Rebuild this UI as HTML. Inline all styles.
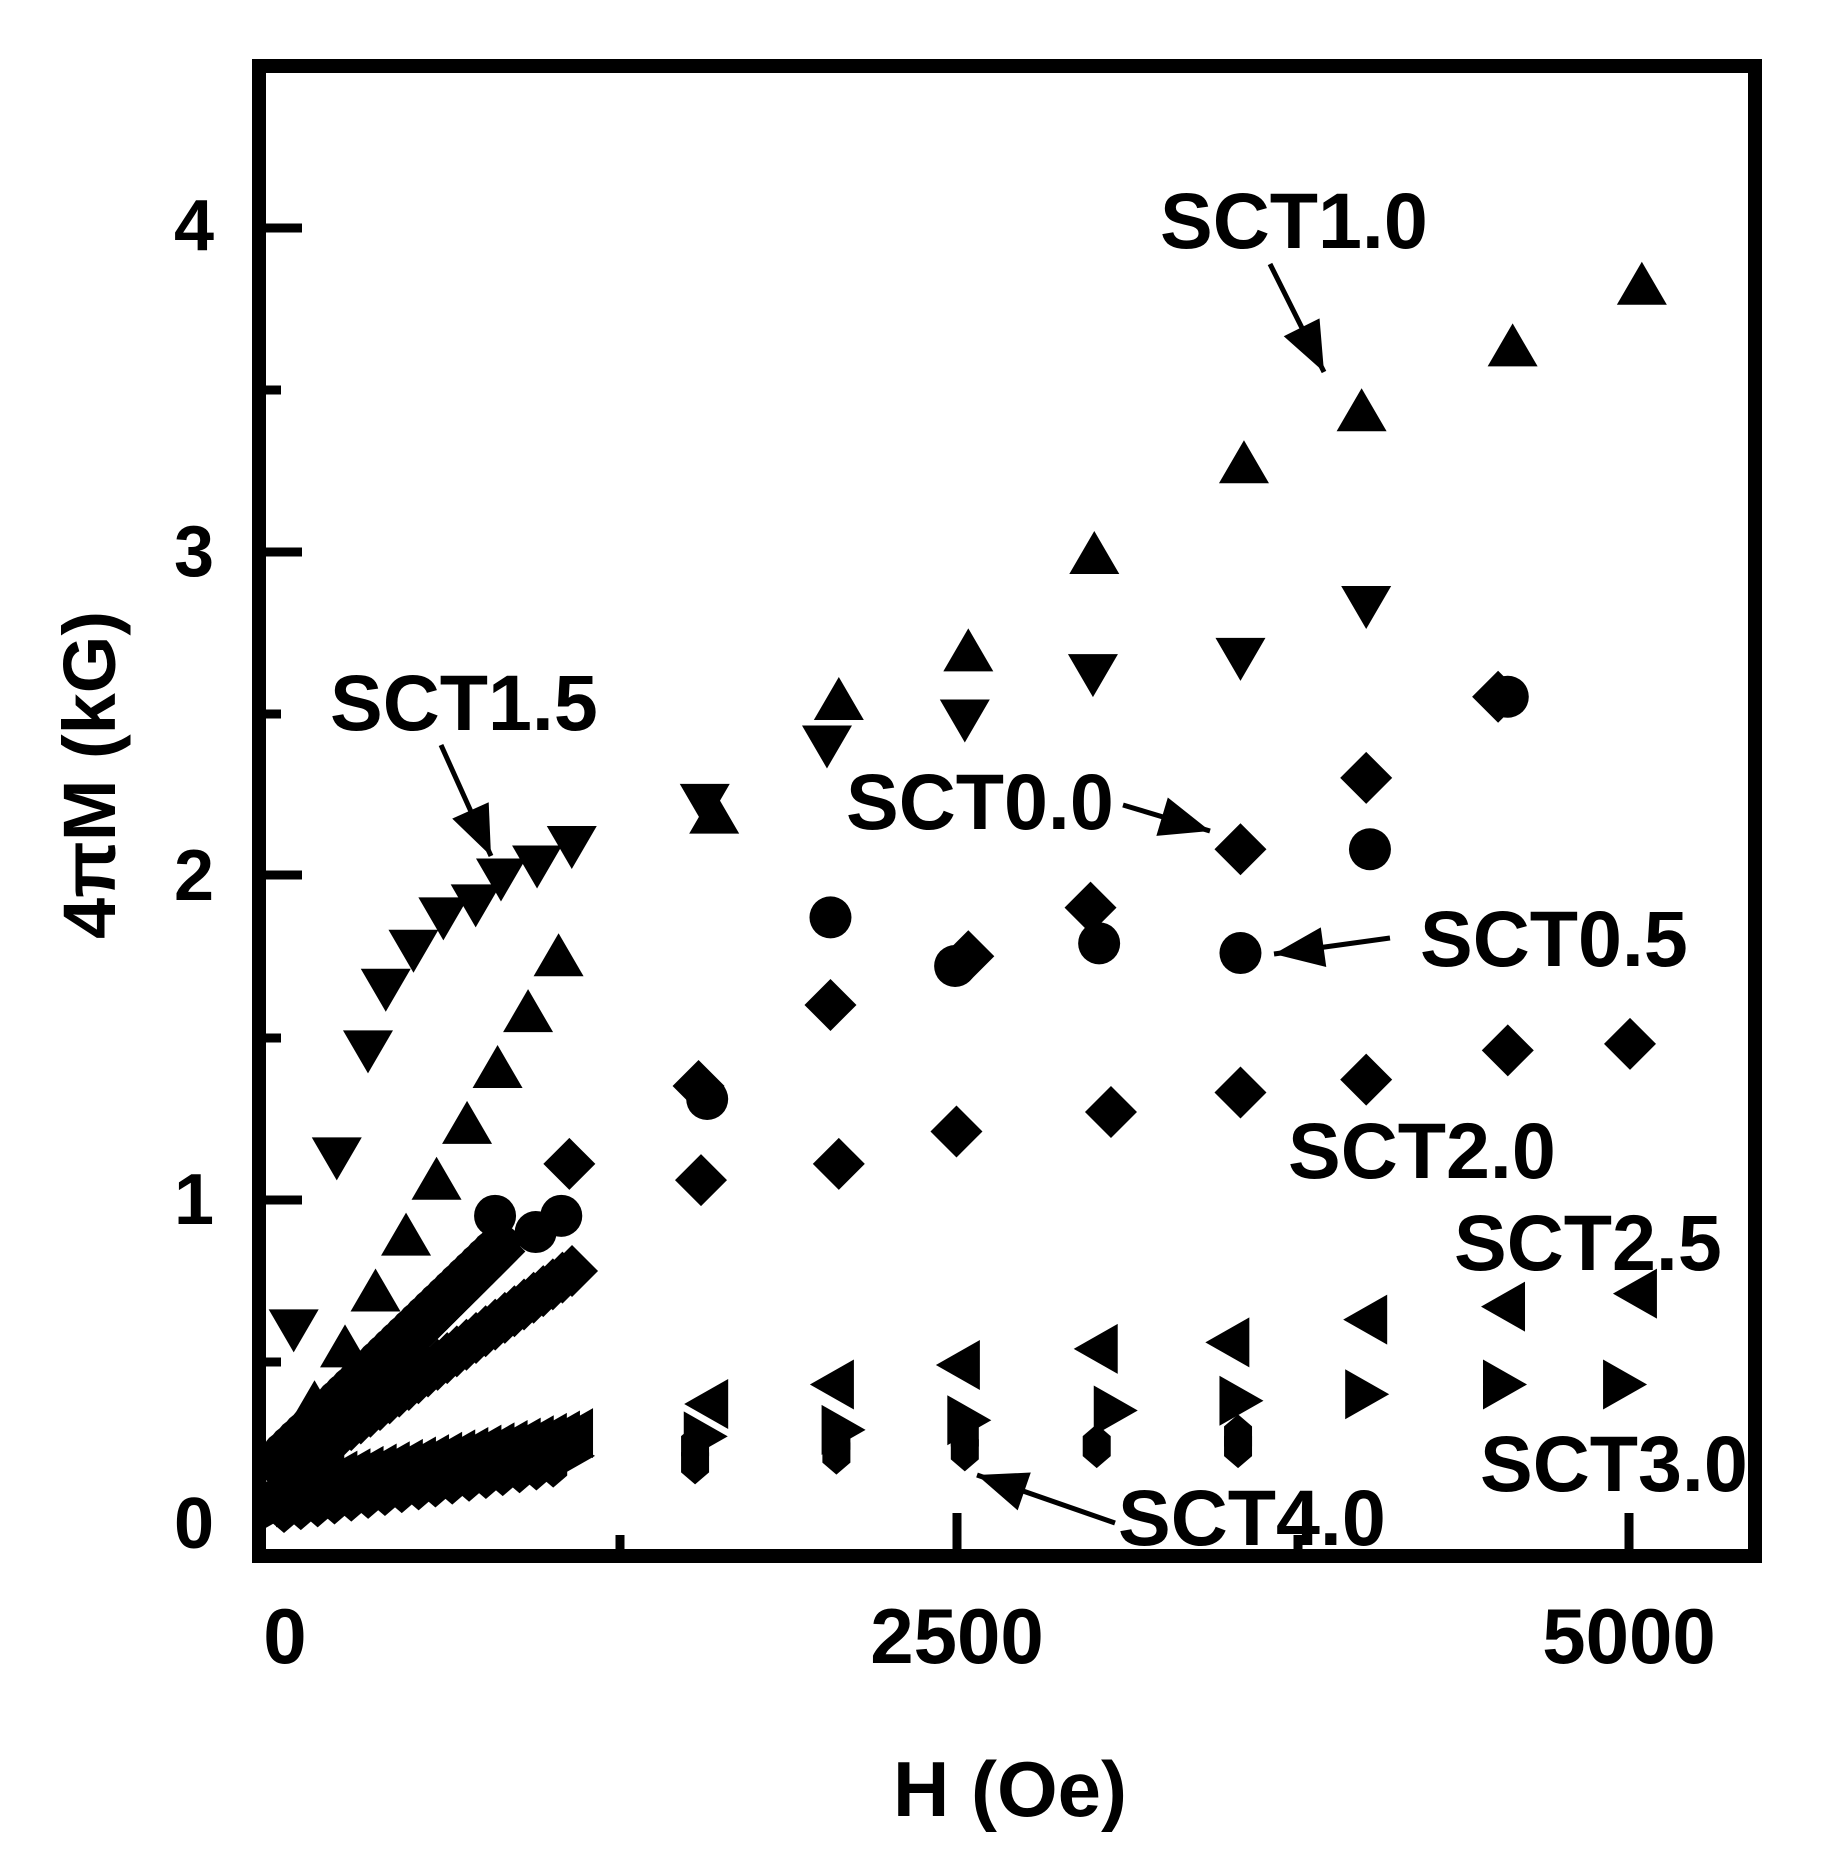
<!DOCTYPE html>
<html><head><meta charset="utf-8"><style>
html,body{margin:0;padding:0;background:#fff}
svg{display:block}
text{font-family:"Liberation Sans",Arial,sans-serif;font-weight:bold;fill:#000}
</style></head><body>
<svg id="s" width="1822" height="1871" viewBox="0 0 1822 1871" xmlns="http://www.w3.org/2000/svg">
<rect x="259" y="66" width="1496" height="1490" fill="none" stroke="#000" stroke-width="14"/>
<g stroke="#000" stroke-width="9">
<line x1="266" y1="228" x2="302" y2="228"/><line x1="266" y1="552" x2="302" y2="552"/>
<line x1="266" y1="875" x2="302" y2="875"/><line x1="266" y1="1200" x2="302" y2="1200"/>
<line x1="266" y1="390" x2="281" y2="390"/><line x1="266" y1="714" x2="281" y2="714"/>
<line x1="266" y1="1038" x2="281" y2="1038"/><line x1="266" y1="1362" x2="281" y2="1362"/>
<line x1="620" y1="1535" x2="620" y2="1549"/><line x1="957" y1="1513" x2="957" y2="1549"/>
<line x1="1298" y1="1535" x2="1298" y2="1549"/><line x1="1629" y1="1513" x2="1629" y2="1549"/>
</g>
<g font-size="72" text-anchor="end">
<text x="214" y="250">4</text><text x="214" y="576">3</text><text x="214" y="900">2</text>
<text x="214" y="1224">1</text><text x="214" y="1548">0</text>
</g>
<g font-size="78" text-anchor="middle">
<text x="285" y="1663">0</text><text x="957" y="1663">2500</text><text x="1629" y="1663">5000</text>
<text x="1010" y="1816">H (Oe)</text>
</g>
<text font-size="74" text-anchor="middle" transform="translate(115,775) rotate(-90)">4πM (kG)</text>
<g id="d"></g>
<g font-size="79">
<text x="1160" y="248">SCT1.0</text><text x="330" y="730">SCT1.5</text>
<text x="846" y="829">SCT0.0</text><text x="1420" y="966">SCT0.5</text>
<text x="1288" y="1178">SCT2.0</text><text x="1454" y="1270">SCT2.5</text>
<text x="1480" y="1491">SCT3.0</text><text x="1118" y="1545">SCT4.0</text>
</g>
<g id="a" stroke="#000" stroke-width="5"></g>
</svg>
<script>
var NS="http://www.w3.org/2000/svg",d=document.getElementById("d"),a=document.getElementById("a");
function X(h){return 284+0.2692*h}function Y(k){return 1524-324.4*k}
function el(t,at,p){var e=document.createElementNS(NS,t);for(var k in at)e.setAttribute(k,at[k]);p.appendChild(e);return e}
function poly(pts){return pts.map(function(p){return p.join(",")}).join(" ")}
function mk(type,h,k){var x=X(h),y=Y(k);var p;
 if(type=="up")p=[[x,y-23],[x+25,y+20],[x-25,y+20]];
 else if(type=="dn")p=[[x,y+23],[x+25,y-20],[x-25,y-20]];
 else if(type=="lt")p=[[x-23,y],[x+21,y-25],[x+21,y+25]];
 else if(type=="rt")p=[[x+23,y],[x-21,y-25],[x-21,y+25]];
 else if(type=="dm")p=[[x,y-26],[x+26,y],[x,y+26],[x-26,y]];
 else if(type=="hx")p=[[x,y-22],[x+14,y-10],[x+14,y+10],[x,y+22],[x-14,y+10],[x-14,y-10]];
 if(type=="ci"){el("circle",{cx:x,cy:y,r:21},d);return}
 el("polygon",{points:poly(p)},d)}
function series(type,hi,lo){hi.forEach(function(p){mk(type,p[0],p[1])});
 if(lo){var n=lo.n||18;for(var i=0;i<=n;i++){var t=i/n,h=lo.h0+(lo.h1-lo.h0)*t;var k=lo.f(h);mk(type,h,k)}}}
series("up",[[5044,3.82],[4564,3.63],[4003,3.43],[3566,3.27],[3010,2.99],[2542,2.69],[2061,2.54],[1598,2.19]],
 {h0:0,h1:1020,n:9,f:function(h){return 0.2+1.55*h/1020}});
series("dn",[[4020,2.83],[3553,2.67],[3005,2.62],[2529,2.48],[2017,2.40],[1563,2.22],[1069,2.09],[940,2.03],[806,1.99],[712,1.91],[592,1.87],[481,1.77],[378,1.65],[312,1.46],[196,1.13],[36,0.6]]);
series("ci",[[4546,2.55],[4034,2.08],[3553,1.76],[3028,1.79],[2493,1.72],[2030,1.87],[1572,1.31],[1030,0.95],[935,0.9],[784,0.95]],
 {h0:0,h1:800,n:32,f:function(h){return 0.22+0.64*h/800}});
series("dm",[[4510,2.55],[4020,2.30],[3553,2.08],[2996,1.90],[2542,1.75],[2030,1.60],[1540,1.35],[1060,1.11]],
 {h0:0,h1:800,n:28,f:function(h){return 0.18+0.66*h/800}});
series("dm",[[5000,1.48],[4546,1.46],[4020,1.37],[3553,1.33],[3072,1.27],[2498,1.21],[2061,1.11],[1549,1.06]],
 {h0:0,h1:1070,n:30,f:function(h){return 0.16+0.62*h/1070}});
series("lt",[[5022,0.71],[4532,0.67],[4020,0.63],[3508,0.56],[3019,0.54],[2507,0.49],[2039,0.43],[1572,0.37]],
 {h0:0,h1:1070,n:22,f:function(h){return 0.12+0.16*h/1070}});
series("rt",[[4978,0.43],[4532,0.43],[4020,0.40],[3553,0.38],[3086,0.35],[2542,0.32],[2075,0.29],[1563,0.27]],
 {h0:0,h1:1070,n:22,f:function(h){return 0.06+0.15*h/1070}});
series("hx",[[3544,0.24],[3019,0.24],[2529,0.23],[2052,0.22],[1527,0.19],[1527,0.24],[2052,0.26],[2529,0.27],[3544,0.27]],
 {h0:0,h1:1000,n:16,f:function(h){return 0.04+0.14*h/1000}});
function arrow(x1,y1,x2,y2){el("line",{x1:x1,y1:y1,x2:x2,y2:y2},a);var ang=Math.atan2(y2-y1,x2-x1),L=50,W=20;
 var bx=x2-L*Math.cos(ang),by=y2-L*Math.sin(ang);
 el("polygon",{points:poly([[x2,y2],[bx+W*Math.sin(ang),by-W*Math.cos(ang)],[bx-W*Math.sin(ang),by+W*Math.cos(ang)]]),stroke:"none"},a)}
arrow(1270,264,1324,372);arrow(441,745,491,856);arrow(1123,805,1210,831);arrow(1390,938,1274,954);arrow(1115,1523,977,1475);
</script>
</body></html>
